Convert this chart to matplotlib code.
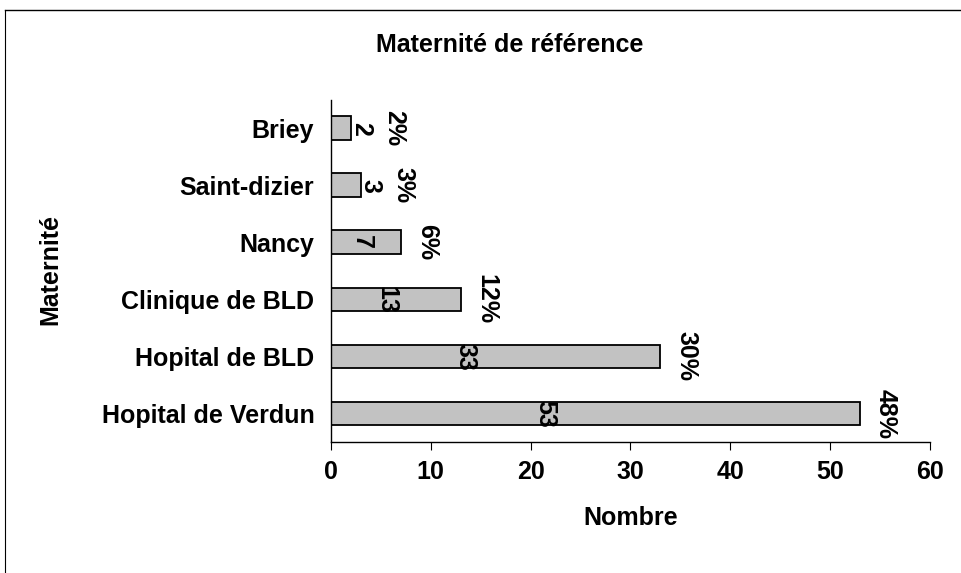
import matplotlib.pyplot as plt
import numpy as np

# Données
maternites = ['Hopital de Verdun', 'Hopital de BLD', 'Clinique de BLD', 'Nancy', 'Saint-dizier', 'Briey']
nombres = [53, 33, 13, 7, 3, 2]

plt.rcParams['font.family'] = ['Liberation Sans', 'DejaVu Sans']
plt.rcParams['font.weight'] = 'bold'
FS = 18

total = sum(nombres)
y = np.arange(len(maternites))

fig = plt.figure(figsize=(9.61, 5.73), dpi=100)
ax = fig.add_axes([0.3444, 0.2286, 0.6233, 0.597])

ax.barh(y, nombres, height=0.42, color='#c2c2c2', edgecolor='black', linewidth=1.3)

# étiquettes (nombre et pourcentage), tournées comme dans Excel
for yi, v in zip(y, nombres):
    x_n = 0.4 * v + 0.3 if v >= 5 else v + 1
    x_p = max(v + 2.6, x_n + 3.3)
    ax.text(x_n, yi, str(v), rotation=-90, ha='center', va='center', fontsize=FS, fontweight='bold')
    ax.text(x_p, yi, f'{round(100 * v / total)}%', rotation=-90, ha='center', va='center',
            fontsize=FS, fontweight='bold')

ax.set_xlim(0, 60)
ax.set_ylim(-0.5, len(maternites) - 0.5)
ax.set_xticks(range(0, 61, 10))
ax.set_yticks(y)
ax.set_yticklabels(maternites)
ax.tick_params(axis='x', labelsize=FS, length=6, direction='out', pad=7)
ax.tick_params(axis='y', labelsize=FS, length=0, pad=12)
ax.spines['top'].set_visible(False)
ax.spines['right'].set_visible(False)
ax.spines['left'].set_linewidth(1.0)
ax.spines['bottom'].set_linewidth(1.0)

ax.set_xlabel('Nombre', fontsize=FS, fontweight='bold', labelpad=16)
fig.text(0.052, 0.529, 'Maternité', rotation=90, ha='center', va='center', fontsize=FS, fontweight='bold')
fig.text(0.53, 0.921, 'Maternité de référence', ha='center', va='center', fontsize=FS, fontweight='bold')

# cadre du graphique
fig.add_artist(plt.Line2D([0.005, 1.0], [0.983, 0.983], color='black', linewidth=1))
fig.add_artist(plt.Line2D([0.005, 0.005], [0.0, 0.983], color='black', linewidth=0.8))

fig.savefig('out.png', dpi=100)
